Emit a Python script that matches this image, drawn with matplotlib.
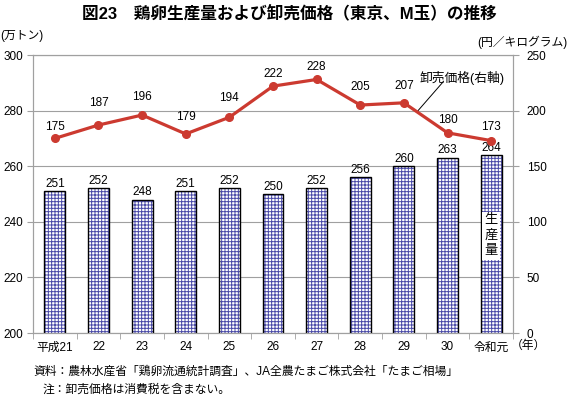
import matplotlib
matplotlib.use('Agg')
import matplotlib.pyplot as plt
import numpy as np

# data
years = ['平成21', '22', '23', '24', '25', '26', '27', '28', '29', '30', '令和元']
production = [251, 252, 248, 251, 252, 250, 252, 256, 260, 263, 264]   # 万トン (left axis)
price = [175, 187, 196, 179, 194, 222, 228, 205, 207, 180, 173]        # 円/kg (right axis)

# label offsets above the price markers (points)
price_label_dy = [8, 16, 13, 12, 14, 9, 9, 13, 12, 9, 10]

plt.rcParams['font.family'] = ['Liberation Sans', 'Noto Sans CJK JP']
plt.rcParams['hatch.linewidth'] = 0.7

grey = '#a0a0a0'
red = '#cc3a30'

fig = plt.figure(figsize=(5.75, 3.95), dpi=100)
ax = fig.add_axes([33/575, 1 - 333/395, 480/575, 278/395])
x = np.arange(len(years))

# bars: blue grid hatch + black outline
ax.bar(x, production, width=0.48, color='white', edgecolor='#4a4aa8',
       hatch='+++++', linewidth=0, zorder=2)
outline = ax.bar(x, production, width=0.48, fill=False, edgecolor='black',
                 linewidth=1.0, zorder=3)
ax.bar_label(outline, padding=1, fontsize=8.5)

ax.set_xlim(-0.5, len(years) - 0.5)
ax.set_ylim(200, 300)
ax.set_yticks(np.arange(200, 301, 20))
ax.yaxis.grid(True, color=grey, lw=0.8)
ax.set_axisbelow(True)
ax.set_xticks(x)
ax.set_xticklabels(years)
ax.set_xticks(np.arange(-0.5, len(years), 1), minor=True)
ax.tick_params(axis='x', which='major', length=0, pad=6, labelsize=8.5)
ax.tick_params(axis='x', which='minor', length=4, color=grey)
ax.tick_params(axis='y', length=4, color=grey, labelsize=8.5, pad=3)
for s in ax.spines.values():
    s.set_color(grey)

# price line on right axis
ax2 = ax.twinx()
ax2.plot(x, price, color=red, lw=2.3, marker='o', ms=5.5, zorder=5)
ax2.set_ylim(0, 250)
ax2.set_yticks(np.arange(0, 251, 50))
ax2.tick_params(axis='y', length=4, color=grey, labelsize=8.5, pad=6)
for s in ax2.spines.values():
    s.set_color(grey)
for xi, p, dy in zip(x, price, price_label_dy):
    ax2.annotate(str(p), (xi, p), xytext=(0, dy), textcoords='offset points',
                 ha='center', va='center', fontsize=8.5)

# leader to the price line
t = 0.3
lx = x[8] + t * (x[9] - x[8])
ly = price[8] + t * (price[9] - price[8])
ax2.plot([lx, lx + 0.6], [ly, ly + 27], color='black', lw=0.7)
ax2.text(8.36, 229, '卸売価格(右軸)', ha='left', va='center', fontsize=9.2)

# vertical label inside the last bar
ax.text(x[-1], 235, '生\n産\n量', ha='center', va='center', fontsize=9.5,
        linespacing=1.4, zorder=6,
        bbox=dict(facecolor='white', edgecolor='none', pad=1.5))

# titles and notes
fig.text(0.503, 1 - 13/395, '図23　鶏卵生産量および卸売価格（東京、M玉）の推移',
         ha='center', va='center', fontsize=12, fontweight='bold')
fig.text(0.0, 1 - 36/395, '(万トン)', ha='left', va='center', fontsize=8.5)
fig.text(477/575, 1 - 42/395, '(円／キログラム)', ha='left', va='center', fontsize=8.5)
fig.text(511/575, 1 - 346/395, '（年）', ha='left', va='center', fontsize=8.5)
fig.text(33/575, 1 - 372/395, '資料：農林水産省「鶏卵流通統計調査」、JA全農たまご株式会社「たまご相場」',
         ha='left', va='center', fontsize=8.5)
fig.text(43/575, 1 - 390/395, '注：卸売価格は消費税を含まない。',
         ha='left', va='center', fontsize=8.5)

fig.savefig('out.png', dpi=100)
